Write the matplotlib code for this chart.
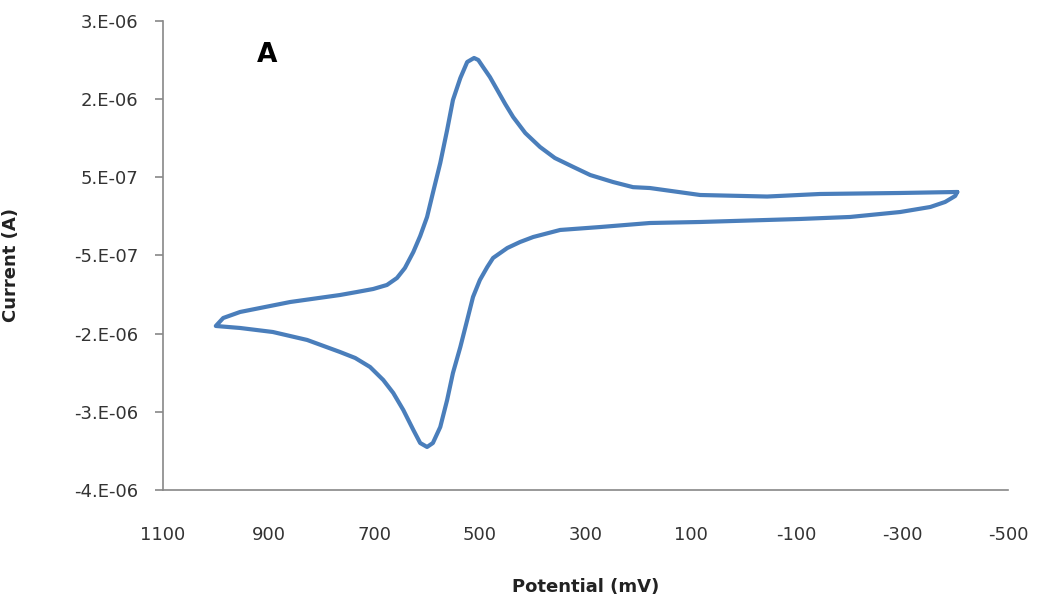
import numpy as np
import matplotlib
matplotlib.use("Agg")
import matplotlib.pyplot as plt

plt.rcParams["axes.unicode_minus"] = False

# cyclic voltammogram (potential in mV, current in uA)
# starts at the right vertex, upper branch towards 1000 mV, lower branch back
potential = [-404, -296, -144, -44, 83, 178, 210, 248, 291, 323, 358, 386, 414, 437, 452,
             467, 481, 494, 503, 511, 524, 537, 551, 562, 575, 589, 600, 613, 626, 642,
             657, 676, 702, 733, 765, 859, 954, 986, 1000,
             954, 892, 827, 765, 736, 708, 683, 664, 645, 626, 613, 600, 589, 575, 562, 551,
             537, 524, 513, 500, 486, 475, 448, 424, 399, 348, 272, 178, 83, -106, -201,
             -296, -353, -381, -400, -404]
current_uA = [0.448, 0.433, 0.418, 0.380, 0.403, 0.507, 0.520, 0.597, 0.701, 0.821, 0.955,
              1.119, 1.328, 1.567, 1.761, 1.970, 2.164, 2.313, 2.418, 2.448, 2.388, 2.149,
              1.821, 1.373, 0.881, 0.433, 0.075, -0.209, -0.448, -0.687, -0.836, -0.940,
              -1.000, -1.045, -1.090, -1.194, -1.343, -1.433, -1.552,
              -1.582, -1.642, -1.761, -1.940, -2.030, -2.164, -2.358, -2.552, -2.806, -3.104,
              -3.299, -3.358, -3.299, -3.060, -2.657, -2.254, -1.866, -1.463, -1.119,
              -0.866, -0.672, -0.537, -0.388, -0.299, -0.224, -0.119, -0.075, -0.015,
              0.000, 0.045, 0.075, 0.149, 0.224, 0.299, 0.388, 0.448]

xticks = [1100, 900, 700, 500, 300, 100, -100, -300, -500]
ytick_labels = ["-4.E-06", "-3.E-06", "-2.E-06", "-5.E-07", "5.E-07", "2.E-06", "3.E-06"]

current = np.array(current_uA) * 1e-6

fig = plt.figure(figsize=(10.37, 5.95), dpi=100)
ax = fig.add_axes([0.1572, 0.1765, 0.8148, 0.7882])

ax.plot(potential, current, color="#4a7ebb", linewidth=3,
        solid_joinstyle="round", solid_capstyle="round")

ax.set_xlim(1100, -500)
ax.set_ylim(-4e-6, 3e-6)
ax.set_xticks(xticks)
ax.set_yticks(np.linspace(-4e-6, 3e-6, 7))
ax.set_yticklabels(ytick_labels)

for side in ["top", "right"]:
    ax.spines[side].set_visible(False)
for side in ["left", "bottom"]:
    ax.spines[side].set_color("#888888")
    ax.spines[side].set_linewidth(1.2)

ax.tick_params(axis="y", direction="out", length=5.8, width=1.2, color="#888888",
               pad=12, labelsize=13, labelcolor="#333333")
ax.tick_params(axis="x", length=0, pad=26, labelsize=13, labelcolor="#333333")

ax.set_xlabel("Potential (mV)", fontsize=13, fontweight="bold", color="#222222")
ax.set_ylabel("Current (A)", fontsize=13, fontweight="bold", color="#222222")
ax.xaxis.set_label_coords(0.5, -0.188)
ax.yaxis.set_label_coords(-0.169, 0.48)

ax.text(0.123, 0.927, "A", transform=ax.transAxes, fontsize=19, fontweight="bold",
        ha="center", va="center")

fig.savefig("out.png", dpi=100)
